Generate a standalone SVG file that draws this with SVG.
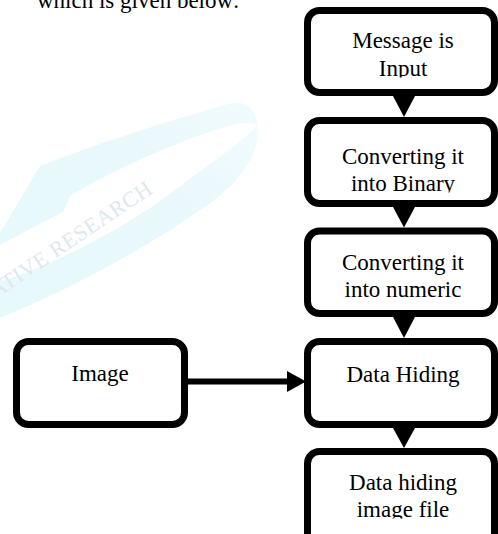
<svg xmlns="http://www.w3.org/2000/svg" width="498" height="534" viewBox="0 0 498 534">
  <style>
    .box { fill: #ffffff; stroke: #000000; stroke-width: 7; }
    .lbl { font-family: "Liberation Serif", "Times New Roman", serif; font-size: 23px; fill: #000000; text-anchor: middle; }
    .arrow { fill: #000000; }
    .link { stroke: #000000; stroke-width: 6; fill: none; }
    .band { fill: url(#swoosh); }
    .mark { font-family: "Liberation Serif", "Times New Roman", serif; font-size: 22px; fill: #dde8ef; letter-spacing: 0.5px; }
  </style>
  <defs>
    <linearGradient id="swoosh" x1="0" y1="1" x2="1" y2="0">
      <stop offset="0" stop-color="#e6f9fb"/>
      <stop offset="0.6" stop-color="#e9f8fb"/>
      <stop offset="1" stop-color="#f1fbfd"/>
    </linearGradient>
    <clipPath id="clip-msg"><rect x="300" y="0" width="198" height="77.5"/></clipPath>
    <clipPath id="clip-bin"><rect x="300" y="110" width="198" height="82.5"/></clipPath>
    <clipPath id="clip-out"><rect x="300" y="440" width="198" height="78.5"/></clipPath>
  </defs>

  <!-- faint background watermark swoosh -->
  <g id="watermark">
    <path class="band" d="M40,166 C80,150 150,126 232,103 C246,100 256,110 257,125 C250,122 240,123 233,125 C190,136 120,166 70,196 L63,212 L-10,250 Z"/>
    <path class="band" d="M257,125 C262,150 240,185 200,210 C150,245 80,285 0,318 L0,282 C60,262 130,225 175,190 C215,160 245,140 257,125 Z"/>
    <text class="mark" text-anchor="end" transform="translate(154,192) rotate(-34)">INNOVATIVE RESEARCH</text>
  </g>

  <!-- introductory line of body text -->
  <text class="lbl" style="text-anchor:start" x="37" y="7.5">which is given below:</text>

  <!-- connectors -->
  <g id="connectors">
    <polygon class="arrow" points="393,96 415,96 404,117"/>
    <polygon class="arrow" points="393,207 415,207 404,227.5"/>
    <polygon class="arrow" points="393,317 415,317 404,338"/>
    <polygon class="arrow" points="393,428 415,428 404,448"/>
    <line class="link" x1="188" y1="381.5" x2="290" y2="381.5"/>
    <polygon class="arrow" points="287,371 306,381.5 287,392"/>
  </g>

  <g id="node-message">
    <rect class="box" x="307.5" y="10.5" width="187" height="82" rx="12"/>
    <g clip-path="url(#clip-msg)">
      <text class="lbl" x="403" y="48">Message is</text>
      <text class="lbl" x="403" y="76">Input</text>
    </g>
  </g>

  <g id="node-binary">
    <rect class="box" x="307.5" y="120.5" width="187" height="83" rx="12"/>
    <g clip-path="url(#clip-bin)">
      <text class="lbl" x="403" y="164">Converting it</text>
      <text class="lbl" x="403" y="191">into Binary</text>
    </g>
  </g>

  <g id="node-numeric">
    <rect class="box" x="307.5" y="231" width="187" height="82.5" rx="12"/>
    <text class="lbl" x="403" y="270">Converting it</text>
    <text class="lbl" x="403" y="297">into numeric</text>
  </g>

  <g id="node-hiding">
    <rect class="box" x="307.5" y="341.5" width="187" height="83" rx="12"/>
    <text class="lbl" x="403" y="382">Data Hiding</text>
  </g>

  <g id="node-output">
    <rect class="box" x="307.5" y="451.5" width="187" height="100" rx="12"/>
    <g clip-path="url(#clip-out)">
      <text class="lbl" x="403" y="490">Data hiding</text>
      <text class="lbl" x="403" y="517">image file</text>
    </g>
  </g>

  <g id="node-image">
    <rect class="box" x="16.5" y="341.5" width="168" height="83" rx="12"/>
    <text class="lbl" x="100" y="381">Image</text>
  </g>
</svg>
